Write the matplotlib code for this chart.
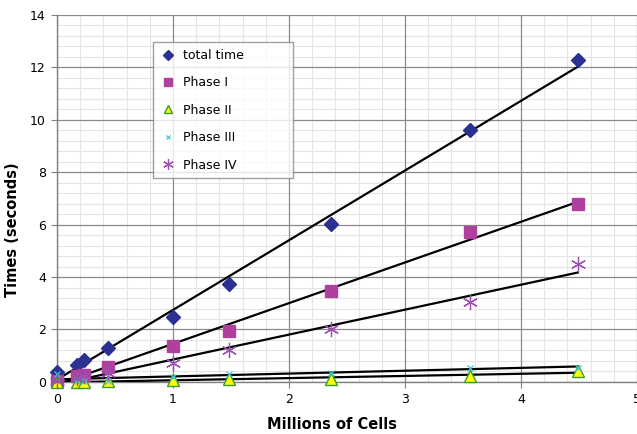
import numpy as np
import matplotlib
matplotlib.use("Agg")
import matplotlib.pyplot as plt
from matplotlib.ticker import MultipleLocator

# millions of cells
cells = [0.0, 0.17, 0.23, 0.44, 1.0, 1.48, 2.36, 3.56, 4.49]

total_time = [0.38, 0.65, 0.85, 1.28, 2.48, 3.72, 6.02, 9.62, 12.3]
phase1 = [0.05, 0.22, 0.28, 0.57, 1.38, 1.95, 3.48, 5.72, 6.78]
phase2 = [0.0, 0.0, 0.0, 0.02, 0.08, 0.1, 0.12, 0.22, 0.42]
phase3 = [0.3, 0.05, 0.05, 0.05, 0.2, 0.3, 0.35, 0.55, 0.55]
phase4 = [0.02, 0.15, 0.22, 0.33, 0.72, 1.2, 2.0, 3.05, 4.5]

names = ["total time", "Phase I", "Phase II", "Phase III", "Phase IV"]

fig = plt.figure(figsize=(6.37, 4.34), dpi=100)
ax = fig.add_axes([0.0895, 0.12, 0.9105, 0.8455])

ax.set_xlim(0, 5)
ax.set_ylim(0, 14)
ax.xaxis.set_major_locator(MultipleLocator(1))
ax.yaxis.set_major_locator(MultipleLocator(2))
# minor grid positions, skipping the major ones
xminor = [v for v in np.arange(0, 5.01, 0.2) if abs(v - round(v)) > 1e-6]
yminor = [v for v in np.arange(0, 14.01, 0.4) if abs(v / 2 - round(v / 2)) > 1e-6]
ax.set_xticks(xminor, minor=True)
ax.set_yticks(yminor, minor=True)
ax.grid(which="minor", color="#e4e4e4", lw=0.8)
ax.set_axisbelow(True)
# major grid on top of the minor one
for v in ax.get_xticks():
    ax.axvline(v, color="#8a8a8a", lw=0.9, zorder=1)
for v in ax.get_yticks():
    ax.axhline(v, color="#8a8a8a", lw=0.9, zorder=1)
ax.set_xlim(0, 5)
ax.set_ylim(0, 14)

for s in ["top", "right"]:
    ax.spines[s].set_visible(False)
for s in ["left", "bottom"]:
    ax.spines[s].set_color("#808080")
    ax.spines[s].set_linewidth(1.0)
ax.tick_params(which="major", direction="out", length=4, color="#808080",
               labelsize=9, pad=4)
ax.tick_params(which="minor", length=0)

styles = [
    dict(marker="D", color="#2b3190", ms=7, mec="#2b3190", ls="none"),
    dict(marker="s", color="#b0409e", ms=9, mec="#b0409e", ls="none"),
    dict(marker="^", color="#ffff00", ms=9, mec="#3a9a3a", mew=1.0, ls="none"),
    dict(marker="x", color="#40c8d0", ms=5, mew=0.9, ls="none"),
    dict(marker=(6, 2, 0), color="#9b4fb0", ms=11, mew=0.9, ls="none"),
]
series = [total_time, phase1, phase2, phase3, phase4]

x = np.array(cells)
for ys, st, nm in zip(series, styles, names):
    ax.plot(x, ys, label=nm, clip_on=False, zorder=4, **st)
    k, b = np.polyfit(x, ys, 1)
    xs = np.array([0, x.max()])
    ax.plot(xs, k * xs + b, color="black", lw=1.6, zorder=3)

ax.set_xlabel("Millions of Cells", fontsize=10.5, fontweight="bold")
ax.set_ylabel("Times (seconds)", fontsize=10.5, fontweight="bold")
ax.xaxis.set_label_coords(0.474, -0.095)
ax.yaxis.set_label_coords(-0.064, 0.414)

handles, labels = ax.get_legend_handles_labels()
leg = ax.legend(handles, labels, loc="upper left",
                bbox_to_anchor=(0.166, 0.537, 0.241, 0.389), mode="expand",
                fontsize=9, frameon=True, fancybox=False, edgecolor="#888888",
                borderpad=0.55, labelspacing=1.15, handletextpad=0.6,
                handlelength=1.2, markerscale=0.7, borderaxespad=0)
leg.get_frame().set_linewidth(1.0)
leg.set_zorder(6)

fig.savefig("out.png", dpi=100)
